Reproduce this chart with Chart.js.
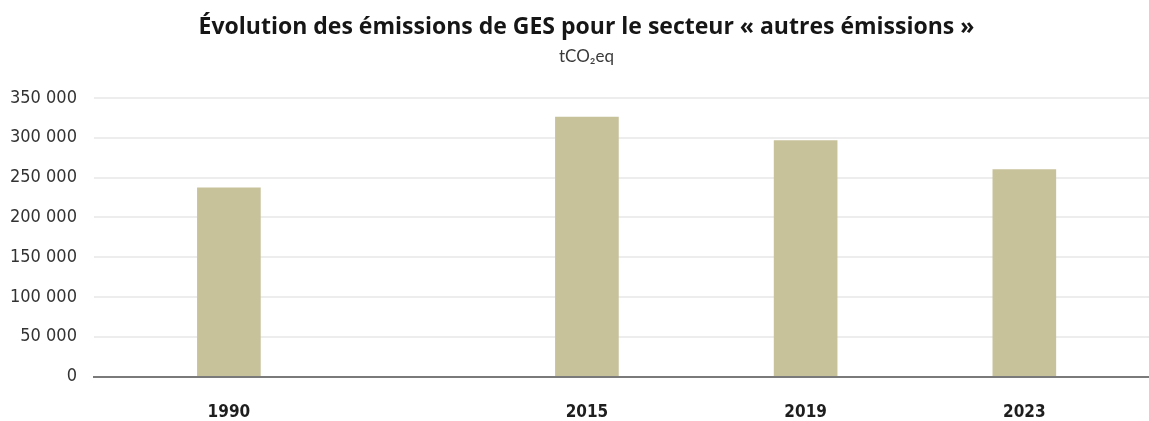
<!DOCTYPE html>
<html lang="fr">
<head>
<meta charset="utf-8">
<title>Évolution des émissions de GES</title>
<script src="https://cdn.jsdelivr.net/npm/chart.js@4/dist/chart.umd.min.js"></script>
<style>
  html, body { margin: 0; padding: 0; background: #ffffff; }
  #wrap { width: 1149px; height: 421px; }
</style>
</head>
<body>
<div id="wrap"><canvas id="c" width="1149" height="421"></canvas></div>
<script>
// ---- Data ----
const categories = ['1990', '2015', '2019', '2023'];
const emissions = [237000, 326000, 296500, 260000];
const yTickValues = [0, 50000, 100000, 150000, 200000, 250000, 300000, 350000];
const titleText = 'Évolution des émissions de GES pour le secteur « autres émissions »';
const subtitleText = 'tCO₂eq';

// ---- Axis layout (the source leaves a wider gap between 1990 and 2015) ----
const axisLayout = { lead: 0.617, steps: [1.637, 1, 1], tail: 0.57 };
const headerShift = 7; // source title block is centred slightly right of the canvas centre

function formatThousands(v) {
  return String(v).replace(/\B(?=(\d{3})+(?!\d))/g, ' ');
}

const condensed = "'DejaVu Sans Condensed', 'DejaVu Sans', sans-serif";

const shiftHeader = {
  id: 'shiftHeader',
  afterLayout(chart) {
    chart.boxes.forEach(b => {
      if (b.position === 'top' && b.options && b.options.text !== undefined) {
        b.left += headerShift;
        b.right += headerShift;
      }
    });
  }
};

new Chart(document.getElementById('c'), {
  type: 'bar',
  data: {
    labels: categories,
    datasets: [{
      label: 'Émissions',
      data: emissions,
      backgroundColor: '#c8c29b',
      borderWidth: 0,
      barThickness: 63
    }]
  },
  plugins: [shiftHeader],
  options: {
    responsive: false,
    maintainAspectRatio: false,
    animation: false,
    layout: { padding: { left: 10, right: 0, top: 0, bottom: 0 } },
    plugins: {
      legend: { display: false },
      tooltip: { enabled: false },
      title: {
        display: true,
        text: titleText,
        color: '#161616',
        font: { family: "'Open Sans', Lato, sans-serif", size: 23, weight: '700', lineHeight: 1.2 },
        padding: { top: 14, bottom: 5 }
      },
      subtitle: {
        display: true,
        text: subtitleText,
        color: '#3a3a3a',
        font: { family: "Lato, 'Open Sans', sans-serif", size: 17, weight: '400', lineHeight: 1.2 },
        padding: { top: 0, bottom: 31 }
      }
    },
    scales: {
      x: {
        type: 'category',
        offset: true,
        grid: { display: false, drawTicks: false },
        border: { display: true, color: '#7a7a7a', width: 2 },
        ticks: {
          color: '#1e1e1e',
          padding: 26,
          font: { family: condensed, size: 17, weight: 'bold', lineHeight: 1.2 },
          maxRotation: 0,
          autoSkip: false
        },
        afterFit(scale) {
          scale.paddingLeft = 0;
          scale.paddingRight = 0;
          scale.height -= scale.options.ticks.padding + 2;
        },
        afterBuildTicks(scale) {
          const cum = [axisLayout.lead];
          axisLayout.steps.forEach((s, i) => cum.push(cum[i] + s));
          const total = cum[cum.length - 1] + axisLayout.tail;
          scale.getPixelForValue = function (value) {
            if (typeof value !== 'number') value = this.parse(value);
            if (value === null || value === undefined || isNaN(value)) return NaN;
            const i = Math.max(0, Math.min(cum.length - 1, Math.round(value)));
            return this.getPixelForDecimal(cum[i] / total);
          };
        }
      },
      y: {
        min: 0,
        max: 350000,
        grid: { color: '#ededed', lineWidth: 2, drawTicks: false },
        border: { display: false },
        afterBuildTicks(scale) {
          scale.ticks = yTickValues.map(v => ({ value: v }));
        },
        afterFit(scale) {
          scale.width -= scale.options.ticks.padding;
        },
        ticks: {
          color: '#333333',
          padding: 17,
          font: { family: condensed, size: 18 },
          callback: (v) => formatThousands(v)
        }
      }
    }
  }
});
</script>
</body>
</html>
